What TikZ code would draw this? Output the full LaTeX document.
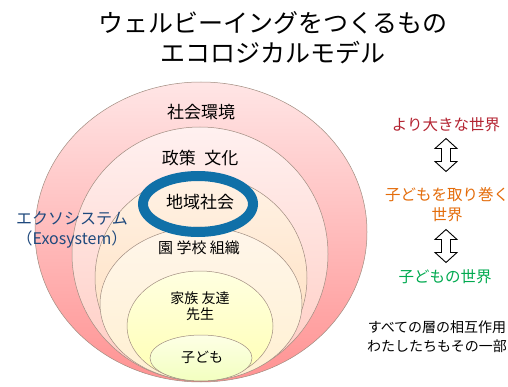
\documentclass[tikz,border=0pt]{standalone}
\usepackage{fontspec}
\setmainfont{Noto Sans CJK JP}
\usetikzlibrary{positioning}

\definecolor{ringline}{RGB}{160,140,128}
\definecolor{exoblue}{RGB}{31,73,125}
\definecolor{focusblue}{RGB}{16,112,168}
\definecolor{bigred}{RGB}{180,36,50}
\definecolor{midorange}{RGB}{228,108,10}
\definecolor{kidgreen}{RGB}{0,170,80}

\tikzset{
  ring/.style 2 args={draw=ringline, line width=0.5pt, top color=#1, bottom color=#2},
  lbl/.style={inner sep=0pt, align=center},
  hollowarrow/.style={draw=black, line width=0.9pt, fill=white, line join=miter}
}

\begin{document}
\begin{tikzpicture}[x=1pt, y=-1pt]
    \useasboundingbox[fill=white] (0,0) rectangle (508,387);

    % nested layers, outside in
    \shadedraw[ring={red!10}{red!30!pink!90}] (201,232) ellipse (166 and 150);
    \shadedraw[ring={orange!8!red!6}{orange!32!red!24}] (200,254) ellipse (128 and 127);
    \shadedraw[ring={orange!10}{orange!28}] (201,278) ellipse (106 and 103);
    \shadedraw[ring={yellow!10!orange!8}{yellow!35!orange!18}] (201,304) ellipse (101 and 77);
    \shadedraw[ring={yellow!12}{yellow!30}] (200,326) ellipse (73 and 55);
    \shadedraw[ring={green!6!yellow!10}{green!20!yellow!25}] (201,358) ellipse (51 and 23);

    % the layer in focus
    \draw[focusblue, line width=10pt] (198,204) ellipse (55 and 28);

    \node[lbl, font=\fontsize{25}{30}\selectfont] (title) at (273,38)
      {ウェルビーイングをつくるもの\\エコロジカルモデル};

    \node[lbl, font=\fontsize{17}{20}\selectfont] (env) at (201,112) {社会環境};
    \node[lbl, font=\fontsize{17}{20}\selectfont] (policy) at (200,158) {政策\hspace{0.5em}文化};
    \node[lbl, font=\fontsize{17}{20}\selectfont] (local) at (200,202) {地域社会};
    \node[lbl, font=\fontsize{15}{18}\selectfont] (school) at (199,248) {園\ 学校\ 組織};
    \node[lbl, font=\fontsize{14}{16}\selectfont] (family) at (200,306) {家族\ 友達\\先生};
    \node[lbl, font=\fontsize{14}{16}\selectfont] (child) at (202,357) {子ども};

    \node[lbl, text=exoblue, font=\fontsize{16}{20}\selectfont] (exo) at (72,230)
      {エクソシステム\\（Exosystem）};

    \node[lbl, text=bigred, font=\fontsize{15.5}{18}\selectfont] (bigger) at (446,125) {より大きな世界};
    \node[lbl, text=midorange, font=\fontsize{15.5}{20}\selectfont] (around) at (447,205)
      {子どもを取り巻く\\世界};
    \node[lbl, text=kidgreen, font=\fontsize{15.5}{18}\selectfont] (kidworld) at (445,277) {子どもの世界};
    \node[lbl, font=\fontsize{14}{19}\selectfont] (note) at (437,337)
      {すべての層の相互作用\\わたしたちもその一部};

    \coordinate (arrA) at (446,155);
    \coordinate (arrB) at (446,246);
    \draw[hollowarrow] (arrA) ++(0,-16.5) -- ++(11,10) -- ++(-6.5,0) -- ++(0,13) -- ++(6.5,0)
      -- ++(-11,10) -- ++(-11,-10) -- ++(6.5,0) -- ++(0,-13) -- ++(-6.5,0) -- cycle;
    \draw[hollowarrow] (arrB) ++(0,-16.5) -- ++(11,10) -- ++(-6.5,0) -- ++(0,13) -- ++(6.5,0)
      -- ++(-11,10) -- ++(-11,-10) -- ++(6.5,0) -- ++(0,-13) -- ++(-6.5,0) -- cycle;
  \end{tikzpicture}
\end{document}
